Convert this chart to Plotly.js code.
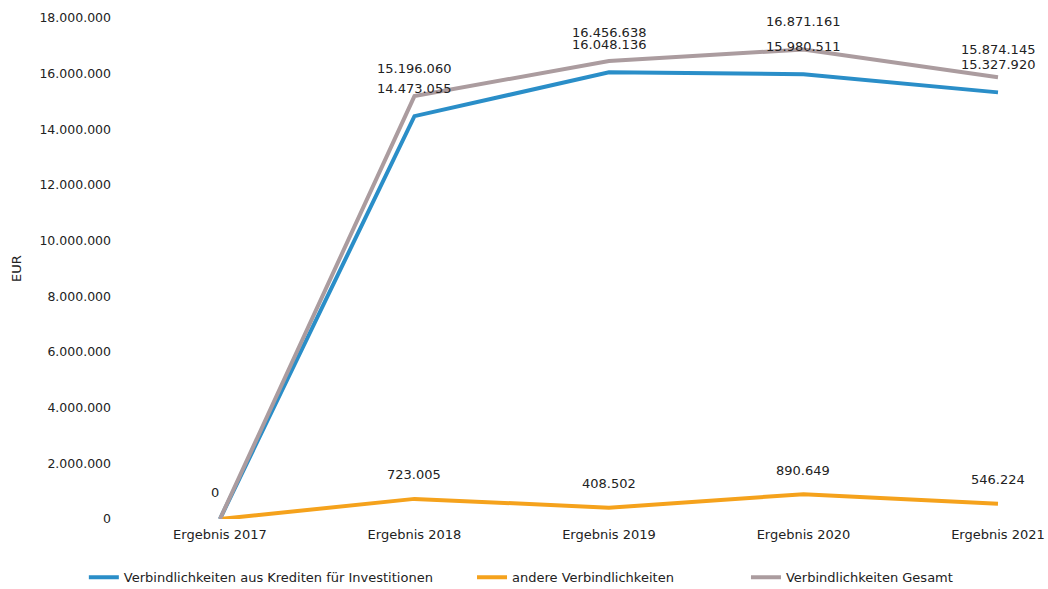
<!DOCTYPE html>
<html><head><meta charset="utf-8">
<script src="https://cdn.plot.ly/plotly-3.0.1.min.js"></script>
<style>body{margin:0;background:#fff}#c{width:1048px;height:589px}</style>
</head><body><div id="c"></div>
<script>
const categories = ["Ergebnis 2017","Ergebnis 2018","Ergebnis 2019","Ergebnis 2020","Ergebnis 2021"];
const kredite = [0, 14473055, 16048136, 15980511, 15327920];
const andere = [0, 723005, 408502, 890649, 546224];
const gesamt = [0, 15196060, 16456638, 16871161, 15874145];
const seriesNames = ["Verbindlichkeiten aus Krediten für Investitionen","andere Verbindlichkeiten","Verbindlichkeiten Gesamt"];
const colors = ["#2a8ec8","#f5a21c","#ab9c9f"];
const yTicks = [0,2000000,4000000,6000000,8000000,10000000,12000000,14000000,16000000,18000000];

const fmt = v => v.toLocaleString('de-DE');
const fam = "DejaVu Sans, Verdana, sans-serif";
const font = {family:fam, size:13, color:"#222"};
const yfont = {family:fam, size:12.5, color:"#222"};

const traces = [
  {x:categories, y:kredite, name:seriesNames[0], mode:"lines", line:{color:colors[0], width:4}, legend:"legend"},
  {x:categories, y:andere, name:seriesNames[1], mode:"lines", line:{color:colors[1], width:4}, legend:"legend2"},
  {x:categories, y:gesamt, name:seriesNames[2], mode:"lines", line:{color:colors[2], width:4}, legend:"legend3"}
];

const annotations = [];
function addLabels(vals, shift){
  vals.forEach((v,i)=>{
    if(i===0) return;
    annotations.push({x:categories[i], y:v, text:fmt(v), showarrow:false, yshift:shift, font:font});
  });
}
addLabels(kredite, 28);
addLabels(gesamt, 28);
addLabels(andere, 24);
annotations.push({x:categories[0], y:kredite[0], text:fmt(kredite[0]), showarrow:false, yshift:27, xshift:-5, font:font});

const legendBase = {orientation:"h", xref:"container", yref:"container", y:0.02, yanchor:"middle", font:font, bgcolor:"rgba(0,0,0,0)"};
const layout = {
  width:1048, height:589,
  margin:{l:112, r:8, t:18, b:70, autoexpand:false},
  paper_bgcolor:"#fff", plot_bgcolor:"#fff",
  font:font,
  showlegend:true,
  legend:Object.assign({}, legendBase, {x:0.08}),
  legend2:Object.assign({}, legendBase, {x:0.4504}),
  legend3:Object.assign({}, legendBase, {x:0.7118}),
  xaxis:{type:"category", range:[-0.555, 4.216], showgrid:false, zeroline:false, showline:false, ticks:"", tickfont:font, ticklabelstandoff:6, automargin:false},
  yaxis:{range:[0,18000000], tickvals:yTicks, ticktext:yTicks.map(fmt), showgrid:false, zeroline:false, showline:false, ticks:"", tickfont:yfont, automargin:false,
         title:{text:"EUR", font:font, standoff:14}},
  annotations:annotations
};
Plotly.newPlot("c", traces, layout, {displayModeBar:false, staticPlot:true});
</script></body></html>
